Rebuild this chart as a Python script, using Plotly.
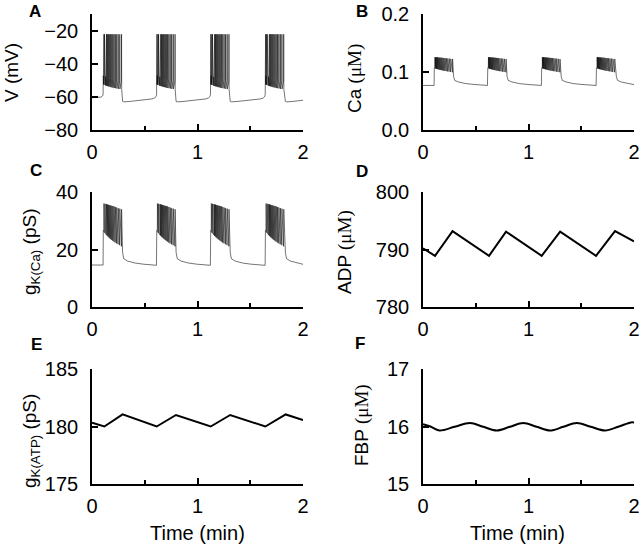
import plotly.graph_objects as go

# ---------------- data ----------------
# burst timing (min)
burst_start = [0.107, 0.614, 1.125, 1.644]
burst_end = [0.286, 0.793, 1.306, 1.829]

# spike times within a burst, relative to burst start (min)
spike_dt = [0.000, 0.005, 0.010, 0.016, 0.022, 0.029, 0.036, 0.044, 0.052, 0.061,
            0.070, 0.080, 0.090, 0.101, 0.113, 0.126, 0.140, 0.155, 0.172]

# Panel A: membrane potential V (mV)
v_init_t = [0.0, 0.05, 0.085, 0.099, 0.105]
v_init = [-60.4, -60.3, -60.0, -59.4, -58.5]
v_thresh = [-47.0, -47.0, -47.2, -47.3, -47.5, -47.6, -47.8, -48.0, -48.2, -48.4,
            -48.6, -48.8, -49.0, -49.2, -49.4, -49.6, -49.8, -50.0, -50.2]
v_peak = [-21.8, -21.8, -21.8, -21.8, -21.8, -21.8, -21.8, -21.8, -21.8, -21.8,
          -21.8, -21.8, -21.8, -21.8, -21.8, -21.8, -21.8, -21.8, -21.8]
v_ahp = [-52.3, -52.5, -52.6, -52.8, -53.0, -53.1, -53.3, -53.5, -53.6, -53.8,
         -54.0, -54.1, -54.3, -54.5, -54.6, -54.8, -55.0, -55.1, -55.3]
v_after_dt = [0.004, 0.015, 0.08, 0.17, 0.25]
v_after = [-62.6, -62.9, -62.6, -62.0, -61.4]
v_before_dt = [-0.045, -0.02, -0.008, -0.002]
v_before = [-61.1, -60.5, -59.8, -58.5]
v_end = -61.9

# Panel B: Ca (uM)
ca_init_t = [0.0, 0.105]
ca_init = [0.0768, 0.0768]
ca_low = [0.107, 0.1066, 0.1062, 0.1058, 0.1054, 0.105, 0.1046, 0.1042, 0.1038, 0.1034,
          0.103, 0.1026, 0.1022, 0.1018, 0.1014, 0.101, 0.1005, 0.1, 0.0995]
ca_high = [0.1255, 0.1255, 0.1255, 0.1254, 0.1253, 0.1252, 0.1251, 0.125, 0.1249, 0.1248,
           0.1246, 0.1244, 0.1242, 0.124, 0.1237, 0.1234, 0.1231, 0.1228, 0.1224]
ca_after_dt = [0.004, 0.015, 0.05, 0.12, 0.2, 0.3]
ca_after = [0.092, 0.0855, 0.0828, 0.0800, 0.0785, 0.0772]
ca_before_dt = [-0.003]
ca_before = [0.0768]
ca_end = 0.0782

# Panel C: gK(Ca) (pS)
gk_init_t = [0.0, 0.105]
gk_init = [14.6, 14.6]
gk_low = [26.6, 26.3, 26.0, 25.7, 25.4, 25.1, 24.8, 24.5, 24.2, 23.9,
          23.6, 23.3, 23.0, 22.7, 22.4, 22.1, 21.8, 21.5, 21.1]
gk_high = [36.0, 36.0, 35.9, 35.9, 35.8, 35.8, 35.7, 35.6, 35.5, 35.4,
           35.3, 35.2, 35.1, 35.0, 34.8, 34.6, 34.4, 34.2, 34.0]
gk_after_dt = [0.004, 0.015, 0.05, 0.12, 0.2, 0.3]
gk_after = [19.0, 16.8, 16.0, 15.3, 14.9, 14.6]
gk_before_dt = [-0.003]
gk_before = [14.5]
gk_end = 14.85

# Panel D: ADP (uM)
adp_t = [0.0, 0.114, 0.28, 0.626, 0.787, 1.125, 1.30, 1.64, 1.82, 2.0]
adp = [790.2, 788.9, 793.2, 788.9, 793.1, 788.9, 793.1, 788.9, 793.2, 791.4]

# Panel E: gK(ATP) (pS)
katp_t = [0.0, 0.117, 0.29, 0.613, 0.796, 1.125, 1.31, 1.643, 1.836, 2.0]
katp = [180.33, 180.0, 181.06, 180.0, 181.0, 180.0, 181.0, 180.0, 181.05, 180.57]

# Panel F: FBP (uM)
fbp_t = [0.0, 0.07, 0.155, 0.30, 0.445, 0.57, 0.70, 0.825, 0.95, 1.077,
         1.204, 1.33, 1.457, 1.59, 1.725, 1.85, 1.97, 2.0]
fbp = [16.04, 16.0, 15.93, 15.995, 16.06, 15.995, 15.93, 15.995, 16.06, 15.995,
       15.93, 15.995, 16.06, 15.995, 15.93, 15.995, 16.07, 16.07]

# axis tick values
x_ticks = [0, 1, 2]
a_ticks = [-80, -60, -40, -20]
b_ticks = [0.0, 0.1, 0.2]
b_ticklabels = ["0.0", "0.1", "0.2"]
c_ticks = [0, 20, 40]
d_ticks = [780, 790, 800]
e_ticks = [175, 180, 185]
f_ticks = [15, 16, 17]


# ---------------- assemble bursting traces ----------------
def bursting(init_t, init_v, spike_shape, after_dt, after_v, before_dt, before_v, end_v):
    xs, ys = list(init_t), list(init_v)
    for k, t0 in enumerate(burst_start):
        for pts in spike_shape:
            for dt, v in pts:
                xs.append(t0 + dt)
                ys.append(v)
        te = burst_end[k]
        nxt = burst_start[k + 1] if k + 1 < len(burst_start) else None
        for dt, v in zip(after_dt, after_v):
            t = te + dt
            if nxt is None:
                if t < 2.0:
                    xs.append(t)
                    ys.append(v)
            elif t < nxt + before_dt[0]:
                xs.append(t)
                ys.append(v)
        if nxt is not None:
            for dt, v in zip(before_dt, before_v):
                xs.append(nxt + dt)
                ys.append(v)
    xs.append(2.0)
    ys.append(end_v)
    return xs, ys


v_shape = [[(d, th), (d + 0.0012, pk), (d + 0.0025, ah)]
           for d, th, pk, ah in zip(spike_dt, v_thresh, v_peak, v_ahp)]
ca_shape = [[(d, lo), (d + 0.0015, hi)] for d, lo, hi in zip(spike_dt, ca_low, ca_high)]
gk_shape = [[(d, lo), (d + 0.0015, hi)] for d, lo, hi in zip(spike_dt, gk_low, gk_high)]

vx, vy = bursting(v_init_t, v_init, v_shape, v_after_dt, v_after, v_before_dt, v_before, v_end)
cx, cy = bursting(ca_init_t, ca_init, ca_shape, ca_after_dt, ca_after, ca_before_dt, ca_before, ca_end)
gx, gy = bursting(gk_init_t, gk_init, gk_shape, gk_after_dt, gk_after, gk_before_dt, gk_before, gk_end)

# ---------------- figure ----------------
W, H = 640, 546
FONT = "Liberation Sans, Arial, Helvetica, sans-serif"
SERIF = "Liberation Serif"
FS = 19
TFS = 20


def px(x):
    return x / W


def py(y):
    return 1 - y / H


fig = go.Figure()
thin = dict(color="black", width=0.55)
thick = dict(color="black", width=2)
fig.add_trace(go.Scatter(x=vx, y=vy, mode="lines", line=thin, xaxis="x", yaxis="y"))
fig.add_trace(go.Scatter(x=cx, y=cy, mode="lines", line=thin, xaxis="x2", yaxis="y2"))
fig.add_trace(go.Scatter(x=gx, y=gy, mode="lines", line=thin, xaxis="x3", yaxis="y3"))
fig.add_trace(go.Scatter(x=adp_t, y=adp, mode="lines", line=thick, xaxis="x4", yaxis="y4"))
fig.add_trace(go.Scatter(x=katp_t, y=katp, mode="lines", line=thick, xaxis="x5", yaxis="y5"))
fig.add_trace(go.Scatter(x=fbp_t, y=fbp, mode="lines",
                         line=dict(color="black", width=2, shape="spline", smoothing=1.0),
                         xaxis="x6", yaxis="y6"))

cols = [(px(92), px(303)), (px(423), px(634))]
rows = [(py(130), py(14)), (py(307), py(192)), (py(484), py(369))]
yinfo = [
    ([-80, -9.5], a_ticks, None),
    ([0, 0.2], b_ticks, b_ticklabels),
    ([0, 40], c_ticks, None),
    ([780, 800], d_ticks, None),
    ([175, 185], e_ticks, None),
    ([15, 17], f_ticks, None),
]

common = dict(showline=True, linecolor="black", linewidth=1.6, ticks="inside", tickcolor="black",
              tickwidth=1.6, ticklen=6, showgrid=False, zeroline=False, automargin=False,
              tickfont=dict(family=FONT, size=TFS, color="black"))

layout = dict(template="none", width=W, height=H, margin=dict(l=0, r=0, t=0, b=0, pad=0),
              showlegend=False, paper_bgcolor="white", plot_bgcolor="white",
              font=dict(family=FONT, size=FS, color="black"))
for i in range(6):
    r, c = divmod(i, 2)
    sfx = "" if i == 0 else str(i + 1)
    rng, tv, tt = yinfo[i]
    layout["xaxis" + sfx] = dict(domain=list(cols[c]), range=[0, 2], anchor="y" + sfx,
                                 tickvals=x_ticks, ticklabelstandoff=3,
                                 minor=dict(dtick=0.5, tick0=0, ticks="inside", ticklen=4,
                                            tickwidth=1.6, tickcolor="black"),
                                 **common)
    ya = dict(domain=list(rows[r]), range=rng, anchor="x" + sfx, tickvals=tv,
              ticklabelstandoff=8, **common)
    if tt:
        ya["ticktext"] = tt
    layout["yaxis" + sfx] = ya

fig.update_layout(**layout)


def ann(text, x, y, size=FS, angle=0, bold=False):
    fig.add_annotation(text=f"<b>{text}</b>" if bold else text, x=px(x), y=py(y),
                       xref="paper", yref="paper", showarrow=False, textangle=angle,
                       xanchor="center", yanchor="middle",
                       font=dict(family=FONT, size=size, color="black"))


mu = f'<span style="font-family:{SERIF}">(\u03bcM)</span>'
# panel letters
for lab, x, y in [("A", 35, 11), ("B", 362, 11), ("C", 36, 170), ("D", 362, 171), ("E", 36, 344), ("F", 360, 343)]:
    ann(lab, x, y, size=17, bold=True)
# y-axis titles
ann("V (mV)", 12, 73, angle=-90)
ann("Ca " + mu, 355, 79, angle=-90)
ann("g<sub>K(Ca)</sub> (pS)", 31, 252, angle=-90)
ann("ADP " + mu, 345, 252, angle=-90)
ann("g<sub>K(ATP)</sub> (pS)", 31, 441, angle=-90)
ann("FBP " + mu, 362, 425, angle=-90)
# x-axis titles
ann("Time (min)", 197, 533, size=20)
ann("Time (min)", 517, 533, size=20)

fig.write_html(
    "out.html",
    config={"displayModeBar": False},
    post_script="document.body.style.margin='0';"
                "document.body.style.overflow='hidden';"
                "document.documentElement.style.overflow='hidden';",
)
